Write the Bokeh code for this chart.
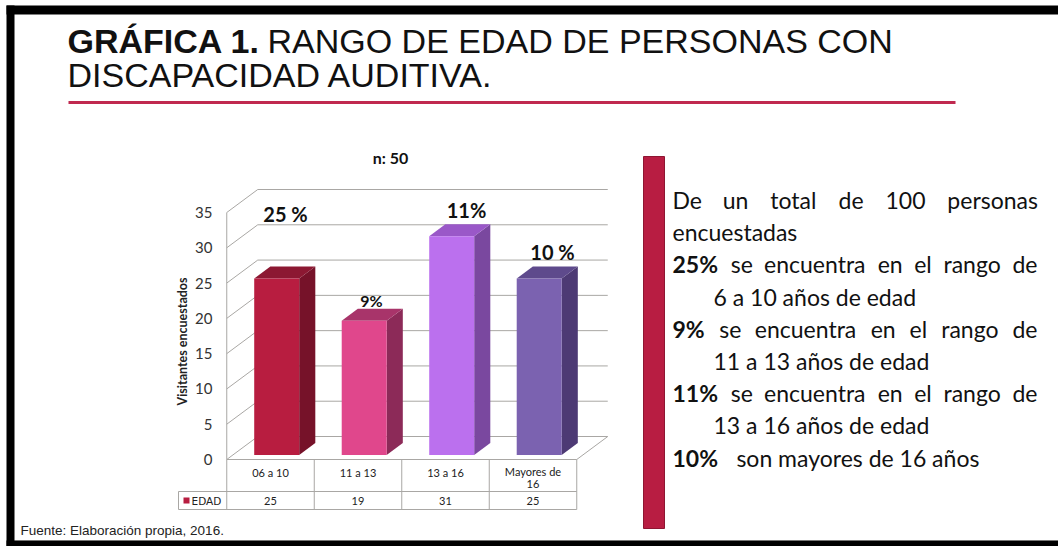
import math
import numpy as np
from bokeh.plotting import figure
from bokeh.models import Range1d, ColumnDataSource
from bokeh.core.properties import value
from bokeh.embed import file_html
from bokeh.resources import INLINE

# ---- data -------------------------------------------------------------
categories = ["06 a 10", "11 a 13", "13 a 16", "Mayores de 16"]
visitors = [25, 19, 31, 25]
pct_labels = ["25 %", "9%", "11%", "10 %"]
y_ticks = [0, 5, 10, 15, 20, 25, 30, 35]
series_name = "EDAD"
sample_label = "n: 50"

front_colors = ["#b81d40", "#e0478c", "#bb70ee", "#7b62b0"]
side_colors = ["#761229", "#8c2a58", "#7a489f", "#4d3a74"]
top_colors = ["#8c1832", "#a8346a", "#9a58c8", "#5e4a8c"]

# ---- layout constants (pixels) ---------------------------------------
W, H = 1058, 546
X0, CAT = 270.0, 87.5        # first category centre, category pitch
Y0, PXU = 459.0, 7.057       # baseline of the value axis, pixels per unit
DEPTH_X, DEPTH_Y = 31.0, 23.0  # perspective offset of the back wall

SANS = "Liberation Sans"
HUM = "Lato"
GRID = "#a9a7a4"


def mid(baseline, size, cap=0.36):
    """Vertical centre of capital letters for a given baseline."""
    return baseline - cap * size


p = figure(width=W, height=H, output_backend="svg", toolbar_location=None,
           x_range=Range1d(-X0 / CAT, (W - X0) / CAT),
           y_range=Range1d(-(H - Y0) / PXU, Y0 / PXU),
           min_border=0, outline_line_color=None,
           background_fill_color="white", border_fill_color="white")
p.axis.visible = False
p.grid.visible = False
p.extra_x_ranges = {"px": Range1d(0, W)}
p.extra_y_ranges = {"px": Range1d(H, 0)}
PX = dict(x_range_name="px", y_range_name="px")

# ---- slide background with a soft diagonal light ----------------------
gh, gw = 64, 128
u = np.linspace(0, 1, gw)[None, :]
v = np.linspace(0, 1, gh)[:, None]          # 0 = bottom row, 1 = top row
light = 0.5 * u + 0.5 * v
c_dark = np.array([217, 213, 208])
c_light = np.array([236, 234, 231])
rgb = c_dark[None, None, :] + light[..., None] * (c_light - c_dark)[None, None, :]
img = np.zeros((gh, gw), dtype=np.uint32)
view = img.view(dtype=np.uint8).reshape((gh, gw, 4))
view[..., :3] = rgb.astype(np.uint8)
view[..., 3] = 255
p.image_rgba(image=[img], x=14, y=540, dw=W - 14, dh=540 - 14, **PX)

p.quad(left=[6, 6, 6], right=[W, 14, W], top=[5, 5, 540], bottom=[14, H, H],
       fill_color="black", line_color=None, **PX)

# title
p.text(x=[67], y=[mid(51, 29)], text=["GRÁFICA 1."], text_font=value(SANS),
       text_font_style="bold", text_font_size="34px", text_color="#111111",
       text_baseline="middle", **PX)
p.text(x=[267, 67], y=[mid(51, 29), mid(85, 29)],
       text=["RANGO DE EDAD DE PERSONAS CON", "DISCAPACIDAD AUDITIVA."],
       text_font=value(SANS), text_font_size="34px", text_color="#111111",
       text_baseline="middle", **PX)
p.segment(x0=[68], y0=[102], x1=[955], y1=[102], line_color="#c0294f",
          line_width=3, **PX)

# ---- 3-D bar chart ---------------------------------------------------
dxu = DEPTH_X / CAT
dyu = DEPTH_Y / PXU
n = len(categories)
left_edge, right_edge = -0.5, n - 0.5
top_val = max(y_ticks)

# back wall grid lines and left wall diagonals
p.segment(x0=[left_edge + dxu] * len(y_ticks), y0=[t + dyu for t in y_ticks],
          x1=[right_edge + dxu] * len(y_ticks), y1=[t + dyu for t in y_ticks],
          line_color=GRID, line_width=1)
p.segment(x0=[left_edge] * len(y_ticks), y0=y_ticks,
          x1=[left_edge + dxu] * len(y_ticks), y1=[t + dyu for t in y_ticks],
          line_color=GRID, line_width=1)
# front value axis and floor
p.segment(x0=[left_edge, right_edge], y0=[0, 0],
          x1=[left_edge, right_edge + dxu], y1=[top_val, dyu],
          line_color=GRID, line_width=1)

# bars: front face, side face, top face
f0, f1 = 0.2, 0.72
hw = 0.257
fl = [i - hw + f0 * dxu for i in range(n)]
fr = [i + hw + f0 * dxu for i in range(n)]
fb = f0 * dyu
ft = [val + f0 * dyu for val in visitors]
ddx, ddy = (f1 - f0) * dxu, (f1 - f0) * dyu

p.patches(xs=[[fr[i], fr[i] + ddx, fr[i] + ddx, fr[i]] for i in range(n)],
          ys=[[fb, fb + ddy, ft[i] + ddy, ft[i]] for i in range(n)],
          fill_color=side_colors, line_color=None)
p.patches(xs=[[fl[i], fr[i], fr[i] + ddx, fl[i] + ddx] for i in range(n)],
          ys=[[ft[i], ft[i], ft[i] + ddy, ft[i] + ddy] for i in range(n)],
          fill_color=top_colors, line_color=None)
p.quad(left=fl, right=fr, bottom=[fb] * n, top=ft, fill_color=front_colors,
       line_color=None)

# value axis labels
p.text(x=[212] * len(y_ticks), y=y_ticks, text=[str(t) for t in y_ticks],
       x_range_name="px", text_font=value(HUM), text_font_size="15px",
       text_color="#333333", text_align="right", text_baseline="middle")
p.text(x=[182], y=[341], text=["Visitantes encuestados"], angle=math.pi / 2,
       text_font=value(HUM), text_font_style="bold", text_font_size="12.5px",
       text_color="#222222", text_align="center", text_baseline="middle", **PX)

# sample size and percentage call-outs
p.text(x=[390], y=[mid(163, 16)], text=[sample_label], text_font=value(HUM),
       text_font_style="bold", text_font_size="16px", text_color="#111111",
       text_align="center", text_baseline="middle", **PX)
p.text(x=[285, 371, 466, 552],
       y=[mid(221, 20), mid(306, 16), mid(217, 20), mid(259, 20)],
       text=pct_labels, text_font=value(HUM), text_font_style="bold",
       text_font_size=["20px", "16px", "20px", "20px"], text_color="#111111",
       text_align="center", text_baseline="middle", **PX)

# ---- data table under the chart ---------------------------------------
TBL_TOP, TBL_MID, TBL_BOT, TBL_LEFT = 459, 491, 509, 178
bounds = [i - 0.5 for i in range(n + 1)]
p.segment(x0=bounds, y0=[TBL_TOP] * (n + 1), x1=bounds, y1=[TBL_BOT] * (n + 1),
          y_range_name="px", line_color=GRID)
p.segment(x0=[left_edge], y0=[TBL_TOP], x1=[right_edge], y1=[TBL_TOP],
          y_range_name="px", line_color=GRID)
px_right = X0 + CAT * right_edge
p.segment(x0=[TBL_LEFT, TBL_LEFT, TBL_LEFT], y0=[TBL_MID, TBL_BOT, TBL_MID],
          x1=[px_right, px_right, TBL_LEFT], y1=[TBL_MID, TBL_BOT, TBL_BOT],
          line_color=GRID, **PX)


def wrap(label, width=10):
    if len(label) <= width or " " not in label:
        return [label]
    head, tail = label.rsplit(" ", 1)
    return [head, tail]


hx, hy, ht = [], [], []
for i, c in enumerate(categories):
    lines = wrap(c)
    start = 472 if len(lines) == 1 else 471
    for k, line in enumerate(lines):
        hx.append(i)
        hy.append(start + 12 * k)
        ht.append(line)
p.text(x=hx, y=hy, text=ht, y_range_name="px", text_font=value(HUM),
       text_font_size="11px", text_color="#222222", text_align="center",
       text_baseline="middle")
p.text(x=list(range(n)), y=[500] * n, text=[str(val) for val in visitors],
       y_range_name="px", text_font=value(HUM), text_font_size="11px",
       text_color="#222222", text_align="center", text_baseline="middle")
p.quad(left=[183], right=[189], top=[497], bottom=[503],
       fill_color=front_colors[0], line_color=None, **PX)
p.text(x=[191], y=[500], text=[series_name], text_font=value("DejaVu Sans"),
       text_font_size="10.5px", text_color="#222222", text_baseline="middle",
       **PX)

# source note
p.text(x=[20], y=[530], text=["Fuente: Elaboración propia, 2016."],
       text_font=value(SANS), text_font_size="13.5px", text_color="#222222",
       text_baseline="middle", **PX)

# ---- commentary panel -------------------------------------------------
p.quad(left=[643], right=[664], top=[156], bottom=[528], fill_color="#b81d42",
       line_color="#8e1632", line_width=1, **PX)

# approximate advance widths (em) used to justify the paragraph
ADV = {"a": .49, "b": .56, "c": .47, "d": .56, "e": .53, "g": .51, "l": .25,
       "m": .84, "n": .56, "ñ": .56, "o": .56, "p": .56, "r": .38, "s": .42,
       "t": .36, "u": .56, "y": .50, "D": .70, "%": .80, " ": .26}
FS = 23
LEFT, RIGHT, INDENT = 672, 1037, 713


def width(word, bold=False):
    w = sum(ADV.get(ch, .58) for ch in word)
    return w * FS * (1.04 if bold else 1.0)


# (baseline, words, justified, indented); a word starting with "*" is bold
para = [
    (208, "De un total de 100 personas", True, False),
    (240, "encuestadas", False, False),
    (272, "*25% se encuentra en el rango de", True, False),
    (305, "6 a 10 años de edad", False, True),
    (337, "*9% se encuentra en el rango de", True, False),
    (369, "11 a 13 años de edad", False, True),
    (401, "*11% se encuentra en el rango de", True, False),
    (433, "13 a 16 años de edad", False, True),
    (466, "*10% |son mayores de 16 años", False, False),
]

runs = {False: {"x": [], "y": [], "t": []}, True: {"x": [], "y": [], "t": []}}
for base, line, justified, indented in para:
    yy = mid(base, FS, 0.36)
    if justified:
        words = line.split(" ")
        bolds = [w.startswith("*") for w in words]
        words = [w.lstrip("*") for w in words]
        ws = [width(w, b) for w, b in zip(words, bolds)]
        gap = (RIGHT - LEFT - sum(ws)) / (len(words) - 1)
        x = LEFT
        for w, b, wd in zip(words, bolds, ws):
            runs[b]["x"].append(x)
            runs[b]["y"].append(yy)
            runs[b]["t"].append(w)
            x += wd + gap
    elif line.startswith("*"):
        head, tail = line[1:].split(" |")
        runs[True]["x"].append(LEFT)
        runs[True]["y"].append(yy)
        runs[True]["t"].append(head)
        runs[False]["x"].append(LEFT + width(head, True) + 17)
        runs[False]["y"].append(yy)
        runs[False]["t"].append(tail)
    else:
        runs[False]["x"].append(INDENT if indented else LEFT)
        runs[False]["y"].append(yy)
        runs[False]["t"].append(line)

for bold, src in runs.items():
    p.text(x="x", y="y", text="t", source=ColumnDataSource(src),
           text_font=value(HUM), text_font_style="bold" if bold else "normal",
           text_font_size=f"{FS}px", text_color="#111111",
           text_baseline="middle", **PX)

open("out.html", "w").write(file_html(p, INLINE))
